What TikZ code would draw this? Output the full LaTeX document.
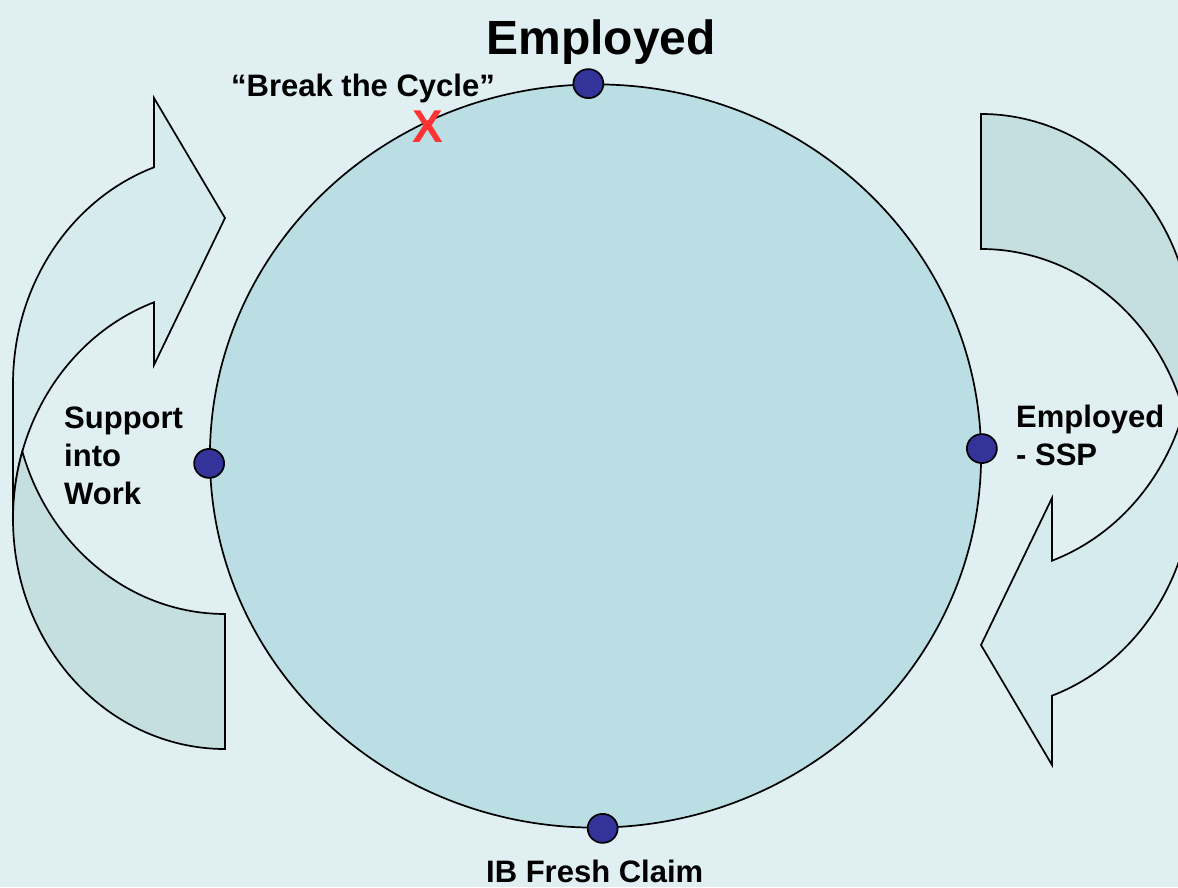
\documentclass[tikz,border=0pt]{standalone}
\usepackage{fontspec}
\setmainfont{Liberation Sans}
\usetikzlibrary{shapes.geometric}
\definecolor{bgcol}{RGB}{223,239,242}
\definecolor{disccol}{RGB}{186,222,227}
\definecolor{bandlight}{RGB}{214,235,238}
\definecolor{banddark}{RGB}{197,223,225}
\definecolor{dotblue}{RGB}{51,51,153}
\definecolor{xred}{RGB}{255,51,51}
% curved arrow: two ellipses (rx 212, ry 230) centred on x=225
\newcommand{\cyclearrowshape}{%
  % front (lighter) band with head
  \filldraw[lightband] (13,368)
    arc[start angle=180, end angle=109.57, x radius=212pt, y radius=230pt]
    -- (154,522) -- (225,669) -- (154,789) -- (154,719.7)
    arc[start angle=109.57, end angle=180, x radius=212pt, y radius=230pt]
    -- cycle;
  % back (darker) band
  \filldraw[darkband] (225,273)
    arc[start angle=270, end angle=197.07, x radius=212pt, y radius=230pt]
    arc[start angle=162.93, end angle=270, x radius=212pt, y radius=230pt]
    -- cycle;
}
\begin{document}
\begin{tikzpicture}[x=1pt,y=1pt,
  outline/.style={draw=black, line width=1.7pt, line join=miter},
  darkband/.style={outline, fill=banddark},
  lightband/.style={outline, fill=bandlight},
  disc/.style={ellipse, outline, fill=disccol, inner sep=0pt,
    minimum width=771.2pt, minimum height=743.2pt},
  stagedot/.style={ellipse, draw=black, line width=1.7pt, fill=dotblue,
    inner sep=0pt, minimum width=30pt, minimum height=29pt},
  smalllabel/.style={font=\fontsize{31}{38}\selectfont\bfseries, inner sep=0pt, align=left},
  biglabel/.style={font=\fontsize{48}{56}\selectfont\bfseries, inner sep=0pt}
]
\fill[bgcol] (0,0) rectangle (1178,887);
\useasboundingbox (0,0) rectangle (1178,887);
\clip (0,0) rectangle (1178,887);

% left curved arrow
\begin{scope}
  \cyclearrowshape
\end{scope}
% right curved arrow (same shape turned half round)
\begin{scope}[rotate around={180:(603,455.5)}]
  \cyclearrowshape
\end{scope}

% main cycle
\node[disc, rotate=1.1] (cyc) at (595.5,431) {};

\node[stagedot] (dtop) at (cyc.north) {};
\node[stagedot] (dright) at (cyc.east) {};
\node[stagedot] (dleft) at (cyc.west) {};
\node[stagedot] (dbottom) at (cyc.south) {};

% labels
\node[biglabel, anchor=base] (lemployed) at (601,832) {Employed};
\node[smalllabel, anchor=base west] (lbreak) at (231,790) {“Break the Cycle”};
\node[font=\fontsize{46}{50}\selectfont\bfseries, text=xred, inner sep=0pt, anchor=base] (xmark) at (428,744) {X};
\node[smalllabel, anchor=base west] (lsupport) at (64,382) {Support\\into\\Work};
\node[smalllabel, anchor=base west] (lssp) at (1016,421) {Employed\\- SSP};
\node[smalllabel, anchor=base west] (lclaim) at (486,5) {IB Fresh Claim};
\end{tikzpicture}
\end{document}
